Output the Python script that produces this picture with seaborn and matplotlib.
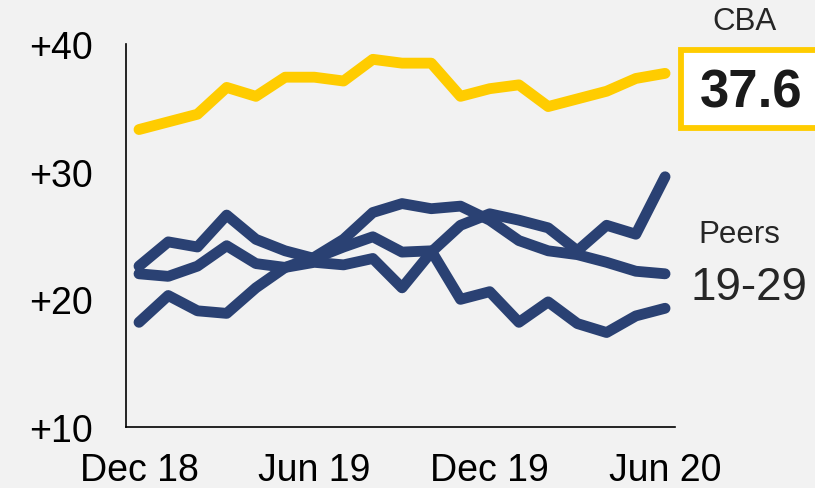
import pandas as pd
import matplotlib
matplotlib.use('Agg')
import matplotlib.pyplot as plt
import matplotlib.patches as patches
import seaborn as sns

# ==================================================
# DATA (monthly, Dec 18 .. Jun 20)
# ==================================================

months = list(range(19))

cba = [33.3, 33.9, 34.5, 36.6, 35.9, 37.4, 37.4, 37.1, 38.8, 38.5,
       38.5, 35.9, 36.5, 36.8, 35.1, 35.7, 36.3, 37.3, 37.7]

peer_a = [18.2, 20.3, 19.1, 18.9, 20.9, 22.5, 23.3, 24.7, 26.8, 27.5,
          27.1, 27.3, 26.2, 24.6, 23.8, 23.5, 22.9, 22.2, 22.0]

peer_b = [22.6, 24.5, 24.1, 26.6, 24.7, 23.8, 23.2, 24.1, 24.9, 23.7,
          23.8, 20.0, 20.6, 18.2, 19.8, 18.1, 17.4, 18.7, 19.3]

peer_c = [22.0, 21.8, 22.6, 24.2, 22.8, 22.5, 22.9, 22.7, 23.2, 20.9,
          23.7, 25.8, 26.7, 26.2, 25.6, 23.8, 25.8, 25.1, 29.6]

x_ticks = [0, 6, 12, 18]
x_labels = ['Dec 18', 'Jun 19', 'Dec 19', 'Jun 20']
y_ticks = [10, 20, 30, 40]
y_labels = ['+10', '+20', '+30', '+40']

YELLOW = '#FFCC00'
NAVY = '#2A4173'
BG = '#F2F2F2'

# ==================================================
# LONG FORMAT TABLE
# ==================================================

df = pd.concat([
    pd.DataFrame({'month': months, 'value': peer_a, 'series': 'Peer A'}),
    pd.DataFrame({'month': months, 'value': peer_b, 'series': 'Peer B'}),
    pd.DataFrame({'month': months, 'value': peer_c, 'series': 'Peer C'}),
    pd.DataFrame({'month': months, 'value': cba, 'series': 'CBA'}),
])

palette = {'Peer A': NAVY, 'Peer B': NAVY, 'Peer C': NAVY, 'CBA': YELLOW}

# ==================================================
# PLOT
# ==================================================

sns.set_style('white', {'axes.facecolor': BG, 'figure.facecolor': BG})
plt.rcParams['font.family'] = ['Liberation Sans', 'DejaVu Sans']

fig = plt.figure(figsize=(8.15, 4.89), dpi=100)
ax = fig.add_axes([126 / 815, 61 / 489, 549 / 815, 383 / 489])

sns.lineplot(data=df, x='month', y='value', hue='series',
             hue_order=['Peer A', 'Peer B', 'Peer C', 'CBA'],
             palette=palette, linewidth=7.8, legend=False, ax=ax,
             solid_capstyle='round', solid_joinstyle='round')

ax.set_xlim(-0.445, 18.34)
ax.set_ylim(10, 40)

ax.set_xticks(x_ticks)
ax.set_xticklabels(x_labels)
ax.set_yticks(y_ticks)
ax.set_yticklabels(y_labels)
ax.set_xlabel('')
ax.set_ylabel('')
ax.tick_params(axis='both', length=0, labelsize=27, colors='black')
ax.tick_params(axis='x', pad=18)
ax.tick_params(axis='y', pad=24)

for side in ['top', 'right']:
    ax.spines[side].set_visible(False)
for side in ['left', 'bottom']:
    ax.spines[side].set_color('black')
    ax.spines[side].set_linewidth(1.2)

# ==================================================
# LABELS ON THE RIGHT
# ==================================================

box = patches.Rectangle((681 / 815, (489 - 129) / 489), 140 / 815, 78 / 489,
                        transform=fig.transFigure, facecolor='white',
                        edgecolor=YELLOW, linewidth=4.2, clip_on=False)
fig.patches.append(box)

fig.text(745 / 815, 1 - 22 / 489, 'CBA', fontsize=22.5,
         ha='center', va='center')
fig.text(751 / 815, 1 - 93 / 489, '37.6', fontsize=38, fontweight='bold',
         ha='center', va='center', color='#1a1a1a')
fig.text(739 / 815, 1 - 235 / 489, 'Peers', fontsize=22.5,
         ha='center', va='center')
fig.text(749 / 815, 1 - 288 / 489, '19-29', fontsize=33,
         ha='center', va='center', color='#262626')

fig.savefig('out.png', dpi=100)
